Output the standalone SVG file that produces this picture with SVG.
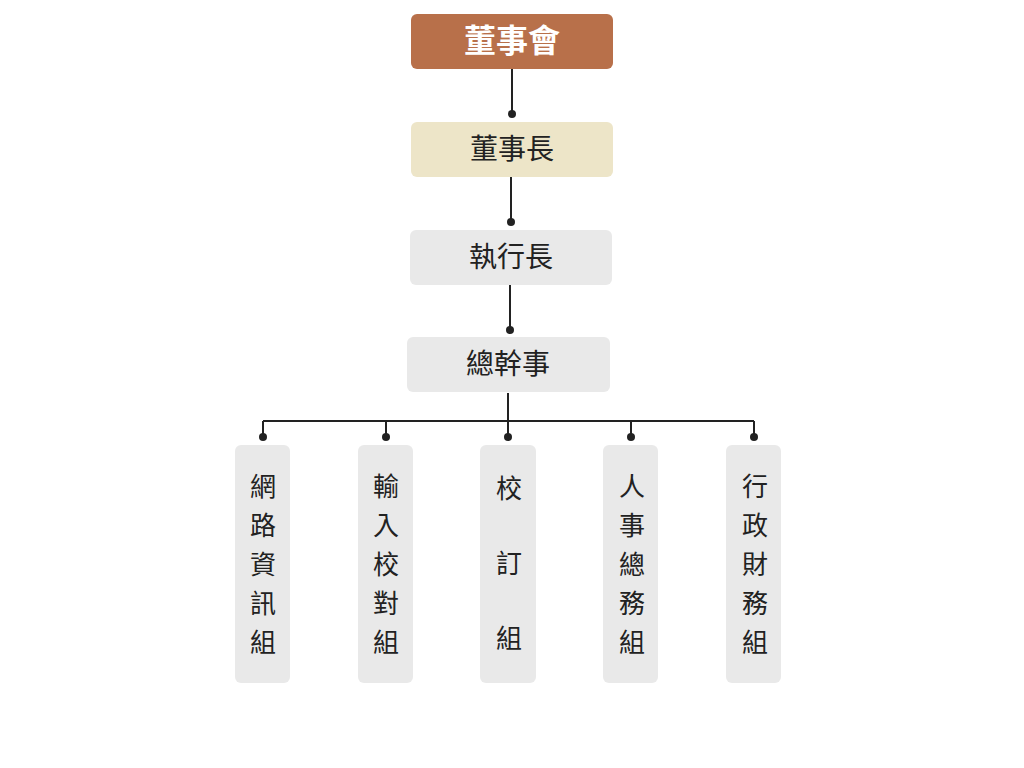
<svg xmlns="http://www.w3.org/2000/svg" width="1024" height="768" viewBox="0 0 1024 768">
<style>
text{font-family:"Noto Sans CJK TC","Noto Sans CJK SC",sans-serif;fill:#222;text-anchor:middle}
.t{font-size:28px}
.v{font-size:26px}
.g{fill:#e9e9e9}
.ln{stroke:#222;stroke-width:2;fill:none}
.d{fill:#222}
</style>
<rect width="1024" height="768" fill="#fff"/>
<g id="connectors">
<path class="ln" d="M512 69V114M511 177V222M510 285V330M508 393V421M263 421H754M263 421V437M386 421V437M508 421V437M631 421V437M754 421V437"/>
<circle class="d" cx="512" cy="114" r="4"/><circle class="d" cx="511" cy="222" r="4"/><circle class="d" cx="510" cy="330" r="4"/>
<circle class="d" cx="263" cy="437" r="4"/><circle class="d" cx="386" cy="437" r="4"/><circle class="d" cx="508" cy="437" r="4"/><circle class="d" cx="631" cy="437" r="4"/><circle class="d" cx="754" cy="437" r="4"/>
</g>
<g id="board"><rect x="411" y="14" width="202" height="55" rx="6" fill="#b8704a"/><text x="512" y="52" style="font-size:32px;font-weight:bold;fill:#fff">董事會</text></g>
<g id="chair"><rect x="411" y="122" width="202" height="55" rx="6" fill="#ede5c8"/><text class="t" x="512" y="159">董事長</text></g>
<g id="ceo"><rect class="g" x="410" y="230" width="202" height="55" rx="6"/><text class="t" x="511" y="267">執行長</text></g>
<g id="sec"><rect class="g" x="407" y="337" width="203" height="55" rx="6"/><text class="t" x="508" y="374">總幹事</text></g>
<g id="n1"><rect class="g" x="235" y="445" width="55" height="238" rx="6"/><text class="v" x="263"><tspan x="263" y="496">網</tspan><tspan x="263" y="535">路</tspan><tspan x="263" y="574">資</tspan><tspan x="263" y="613">訊</tspan><tspan x="263" y="652">組</tspan></text></g>
<g id="n2"><rect class="g" x="358" y="445" width="55" height="238" rx="6"/><text class="v"><tspan x="386" y="496">輸</tspan><tspan x="386" y="535">入</tspan><tspan x="386" y="574">校</tspan><tspan x="386" y="613">對</tspan><tspan x="386" y="652">組</tspan></text></g>
<g id="n3"><rect class="g" x="480" y="445" width="56" height="238" rx="6"/><text class="v"><tspan x="509" y="498">校</tspan><tspan x="509" y="573">訂</tspan><tspan x="509" y="648">組</tspan></text></g>
<g id="n4"><rect class="g" x="603" y="445" width="55" height="238" rx="6"/><text class="v"><tspan x="632" y="496">人</tspan><tspan x="632" y="535">事</tspan><tspan x="632" y="574">總</tspan><tspan x="632" y="613">務</tspan><tspan x="632" y="652">組</tspan></text></g>
<g id="n5"><rect class="g" x="726" y="445" width="55" height="238" rx="6"/><text class="v"><tspan x="755" y="496">行</tspan><tspan x="755" y="535">政</tspan><tspan x="755" y="574">財</tspan><tspan x="755" y="613">務</tspan><tspan x="755" y="652">組</tspan></text></g>
</svg>
